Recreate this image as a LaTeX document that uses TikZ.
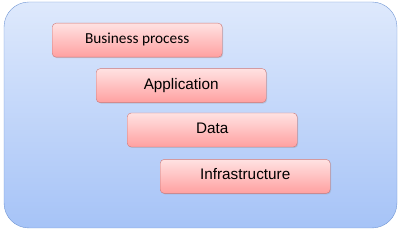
\documentclass[tikz,border=0pt]{standalone}
\usepackage{fontspec}
\setmainfont{Liberation Sans}
\newfontfamily\calibri{Carlito}
\usetikzlibrary{shadows}

\definecolor{paneltop}{RGB}{222,233,252}
\definecolor{panelbot}{RGB}{166,195,247}
\definecolor{panelline}{RGB}{112,150,212}
\definecolor{boxtop}{RGB}{255,226,226}
\definecolor{boxbot}{RGB}{255,160,160}
\definecolor{boxline}{RGB}{205,120,120}

\begin{document}
\begin{tikzpicture}

\def\ssep{11pt}

\tikzstyle{panel} = [minimum width=393pt,minimum height=226pt,inner sep=0pt,rounded corners=25pt,draw=panelline,top color=paneltop,bottom color=panelbot];
\tikzstyle{lnode} = [minimum width=170pt,minimum height=34pt,inner sep=2pt,text height=11pt,text depth=4pt,rounded corners=4pt,draw=boxline,top color=boxtop,bottom color=boxbot,drop shadow={opacity=0.25,shadow xshift=1pt,shadow yshift=-1pt},font=\fontsize{15.3}{18}\selectfont];

\useasboundingbox (0,0) rectangle (400pt,230pt);

\node [panel] (panel) at (200.5pt,115pt) {};

\node [lnode,anchor=north west] (l0) at (52pt,207pt) {\calibri Business process};
\node [lnode,anchor=north west] (l1) at ([xshift=44pt,yshift=-\ssep]l0.south west) {Application};
\node [lnode,anchor=north west] (l2) at ([xshift=31pt,yshift=-10pt]l1.south west) {Data};
\node [lnode,anchor=north west] (l3) at ([xshift=33pt,yshift=-12pt]l2.south west) {Infrastructure};

\end{tikzpicture}
\end{document}
